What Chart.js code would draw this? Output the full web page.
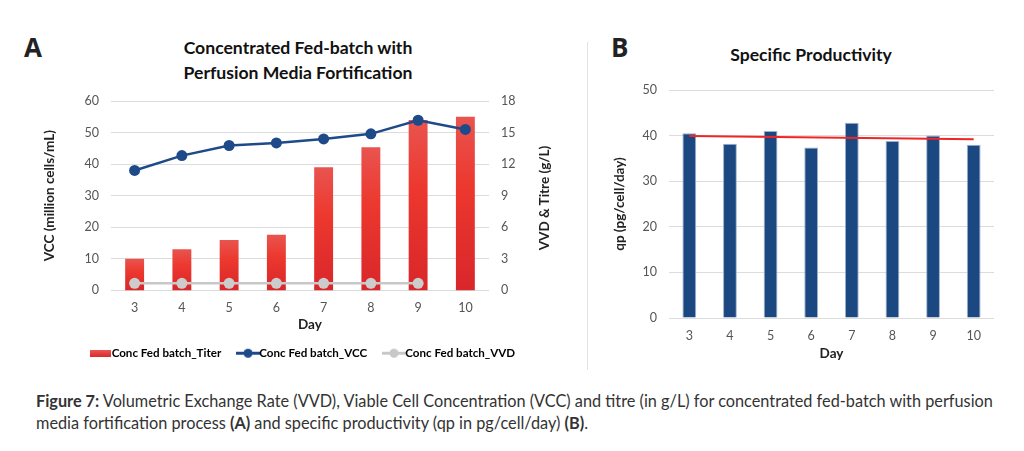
<!DOCTYPE html>
<html>
<head>
<meta charset="utf-8">
<script src="https://cdn.jsdelivr.net/npm/chart.js@4.4.1/dist/chart.umd.min.js"></script>
<style>
  html, body { margin: 0; padding: 0; background: #fff; width: 1024px; height: 451px; overflow: hidden; font-family: Lato, sans-serif; }
  .abs { position: absolute; }
  .panel { font-family: "Open Sans", sans-serif; font-weight: 700; font-size: 26px; line-height: 26px; color: #222; }
  .title { font-family: Lato, sans-serif; font-weight: 700; font-size: 17.6px; line-height: 25px; color: #111; text-align: center; }
  .ytitle { font-family: Lato, sans-serif; font-weight: 700; font-size: 13.5px; line-height: 16px; color: #222; text-align: center; transform: rotate(-90deg); }
  #sep { left: 587px; top: 42px; width: 1px; height: 328px; background: #e3e3e3; }
  #caption { left: 36px; top: 390px; width: 985px; font-size: 16.3px; line-height: 22px; color: #333; white-space: nowrap; }
</style>
</head>
<body>
<div class="abs panel" style="left:24px;top:34px;">A</div>
<div class="abs title" style="left:138px;top:35px;width:320px;">Concentrated Fed-batch with<br>Perfusion Media Fortification</div>
<div class="abs panel" style="left:611px;top:34px;">B</div>
<div class="abs title" style="left:701px;top:42px;width:220px;">Specific Productivity</div>
<div id="sep" class="abs"></div>

<canvas id="chartA" class="abs" style="left:0;top:0;" width="580" height="372"></canvas>
<canvas id="chartB" class="abs" style="left:590px;top:0;" width="434" height="372"></canvas>
<div class="abs ytitle" style="left:464px;top:190px;width:160px;">VVD &amp; Titre (g/L)</div>

<div id="caption" class="abs"><b>Figure 7:</b> Volumetric Exchange Rate (VVD), Viable Cell Concentration (VCC) and titre (in g/L) for concentrated fed-batch with perfusion<br>media fortification process <b>(A)</b> and specific productivity (qp in pg/cell/day) <b>(B)</b>.</div>

<script>
// Day categories shared by both panels
const days = ['3', '4', '5', '6', '7', '8', '9', '10'];

// Panel A series
const titerValues = [3.0, 3.9, 4.8, 5.3, 11.7, 13.6, 16.2, 16.5];   // g/L, right axis
const vccValues = [38.0, 42.7, 45.9, 46.7, 48.0, 49.6, 53.9, 51.0]; // million cells/mL, left axis
const vvdValues = [0.67, 0.67, 0.67, 0.67, 0.67, 0.67, 0.67, null]; // right axis

// Panel B series
const qpValues = [40.5, 38.2, 41.0, 37.4, 42.8, 38.8, 40.0, 38.0];
const qpTrend = [39.9, null, null, null, null, null, null, 39.2];   // trend line end points

// Tick labels
const vccTicks = [0, 10, 20, 30, 40, 50, 60];
const titreTicks = [0, 3, 6, 9, 12, 15, 18];
const qpTicks = [0, 10, 20, 30, 40, 50];

Chart.defaults.font.family = 'Lato';
Chart.defaults.color = '#555';

const tickFont = { size: 12.5 };
const axisTitleFont = { size: 13.5, weight: 'bold' };

const setTicks = (list) => (scale) => { scale.ticks = list.map(v => ({ value: v })); };

// little legend pictures: red block, line with a dot
function legendBlock() {
  const c = document.createElement('canvas');
  c.width = 21; c.height = 7;
  const g = c.getContext('2d');
  const grad = g.createLinearGradient(0, 0, 0, 7);
  grad.addColorStop(0, '#ea5a54');
  grad.addColorStop(1, '#dc2a2a');
  g.fillStyle = grad;
  g.fillRect(0, 0, 21, 7);
  return c;
}
function legendLine(color) {
  const c = document.createElement('canvas');
  c.width = 24; c.height = 11;
  const g = c.getContext('2d');
  g.strokeStyle = color; g.lineWidth = 3;
  g.beginPath(); g.moveTo(0, 5.5); g.lineTo(24, 5.5); g.stroke();
  g.fillStyle = color;
  g.beginPath(); g.arc(12, 5.5, 4.5, 0, Math.PI * 2); g.fill();
  return c;
}

const legendPics = [legendBlock(), legendLine('#1f4a8a'), legendLine('#c8c8c8')];
// trailing spaces widen the gap between legend items without growing the row height
const legendTexts = ['Conc Fed batch_Titer    ', 'Conc Fed batch_VCC    ', 'Conc Fed batch_VVD'];

function barGradient(ctx) {
  const chart = ctx.chart;
  if (!chart.chartArea || ctx.parsed == null) return '#e8342c';
  const yScale = chart.scales.y2;
  const top = yScale.getPixelForValue(ctx.parsed.y);
  const bottom = yScale.getPixelForValue(0);
  if (!isFinite(top) || bottom - top < 1) return '#e8342c';
  const grad = chart.ctx.createLinearGradient(0, top, 0, bottom);
  grad.addColorStop(0, '#e9544f');
  grad.addColorStop(0.4, '#ec382e');
  grad.addColorStop(1, '#d9262a');
  return grad;
}

new Chart(document.getElementById('chartA'), {
  data: {
    labels: days,
    datasets: [
      {
        type: 'line',
        label: 'Conc Fed batch_VCC',
        data: vccValues,
        yAxisID: 'y',
        borderColor: '#1f4a8a',
        backgroundColor: '#1f4a8a',
        borderWidth: 2.5,
        pointRadius: 5.5,
        pointBorderWidth: 0,
        order: 1
      },
      {
        type: 'line',
        label: 'Conc Fed batch_VVD',
        data: vvdValues,
        yAxisID: 'y2',
        borderColor: '#c8c8c8',
        backgroundColor: '#cccccc',
        borderWidth: 2.5,
        pointRadius: 5.5,
        pointBorderWidth: 0,
        order: 2
      },
      {
        type: 'bar',
        label: 'Conc Fed batch_Titer',
        data: titerValues,
        yAxisID: 'y2',
        backgroundColor: barGradient,
        categoryPercentage: 1,
        barPercentage: 0.4,
        order: 3
      }
    ]
  },
  options: {
    responsive: false,
    animation: false,
    layout: { padding: { left: 38, right: 8, top: 101, bottom: 3 } },
    plugins: {
      tooltip: { enabled: false },
      legend: {
        position: 'bottom',
        labels: {
          usePointStyle: true,
          pointStyleWidth: 11,
          padding: 10,
          color: '#333',
          font: { size: 11.6, weight: 'bold' },
          generateLabels: () => [
            { text: legendTexts[0], pointStyle: legendPics[0], datasetIndex: 2, lineWidth: 0 },
            { text: legendTexts[1], pointStyle: legendPics[1], datasetIndex: 0, lineWidth: 0 },
            { text: legendTexts[2], pointStyle: legendPics[2], datasetIndex: 1, lineWidth: 0 }
          ]
        }
      }
    },
    scales: {
      x: {
        grid: { display: false, drawTicks: false },
        border: { display: false },
        ticks: { font: tickFont, padding: 10 },
        // leading spaces nudge the title right, as in the original
        title: { display: true, text: '      Day', color: '#222', font: axisTitleFont, padding: { top: 4, bottom: 5 } },
        afterFit: (s) => { s.height = 47; }
      },
      y: {
        position: 'left',
        min: 0, max: 60,
        afterBuildTicks: setTicks(vccTicks),
        grid: { color: '#dcdcdc', drawTicks: false },
        border: { display: false },
        ticks: { font: tickFont, padding: 12 },
        title: { display: true, text: 'VCC (million cells/mL)', color: '#222', font: axisTitleFont },
        afterFit: (s) => { s.width = 73; }
      },
      y2: {
        position: 'right',
        min: 0, max: 18,
        afterBuildTicks: setTicks(titreTicks),
        grid: { display: false, drawTicks: false },
        border: { display: false },
        ticks: { font: tickFont, padding: 12 },
        afterFit: (s) => { s.width = 83; }
      }
    }
  }
});

new Chart(document.getElementById('chartB'), {
  data: {
    labels: days,
    datasets: [
      {
        type: 'line',
        label: 'Trend',
        data: qpTrend,
        spanGaps: true,
        borderColor: '#ee2626',
        borderWidth: 2,
        pointRadius: 0,
        order: 0
      },
      {
        type: 'bar',
        label: 'qp',
        data: qpValues,
        backgroundColor: '#1c4882',
        borderColor: '#9db1cf',
        borderWidth: 1,
        categoryPercentage: 1,
        barPercentage: 0.34,
        order: 1
      }
    ]
  },
  options: {
    responsive: false,
    animation: false,
    layout: { padding: { left: 18, right: 30, top: 90, bottom: 4 } },
    plugins: { legend: { display: false }, tooltip: { enabled: false } },
    scales: {
      x: {
        grid: { display: false, drawTicks: false },
        border: { display: false },
        ticks: { font: tickFont, padding: 10 },
        title: { display: true, text: 'Day', color: '#222', font: axisTitleFont, padding: { top: 4, bottom: 6 } },
        afterFit: (s) => { s.height = 50; }
      },
      y: {
        min: 0, max: 50,
        afterBuildTicks: setTicks(qpTicks),
        grid: { color: '#dcdcdc', drawTicks: false },
        border: { display: false },
        ticks: { font: tickFont, padding: 12 },
        title: { display: true, text: 'qp (pg/cell/day)', color: '#222', font: axisTitleFont },
        afterFit: (s) => { s.width = 61; }
      }
    }
  }
});
</script>
</body>
</html>
